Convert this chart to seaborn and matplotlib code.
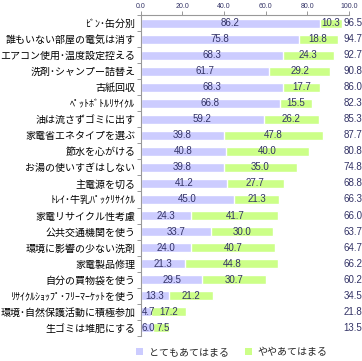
import numpy as np
import pandas as pd
import seaborn as sns
import matplotlib.pyplot as plt
from matplotlib.patches import Patch

labels = [
    "ﾋﾞﾝ･缶分別", "誰もいない部屋の電気は消す", "エアコン使用･温度設定控える",
    "洗剤･シャンプー詰替え", "古紙回収", "ﾍﾟｯﾄﾎﾞﾄﾙﾘｻｲｸﾙ", "油は流さずゴミに出す",
    "家電省エネタイプを選ぶ", "節水を心がける", "お湯の使いすぎはしない", "主電源を切る",
    "ﾄﾚｲ･牛乳ﾊﾟｯｸﾘｻｲｸﾙ", "家電リサイクル性考慮", "公共交通機関を使う",
    "環境に影響の少ない洗剤", "家電製品修理", "自分の買物袋を使う",
    "ﾘｻｲｸﾙｼｮｯﾌﾟ･ﾌﾘｰﾏｰｹｯﾄを使う", "環境･自然保護活動に積極参加", "生ゴミは堆肥にする",
]
very = [86.2, 75.8, 68.3, 61.7, 68.3, 66.8, 59.2, 39.8, 40.8, 39.8, 41.2,
        45.0, 24.3, 33.7, 24.0, 21.3, 29.5, 13.3, 4.7, 6.0]
some = [10.3, 18.8, 24.3, 29.2, 17.7, 15.5, 26.2, 47.8, 40.0, 35.0, 27.7,
        21.3, 41.7, 30.0, 40.7, 44.8, 30.7, 21.2, 17.2, 7.5]
totals = [96.5, 94.7, 92.7, 90.8, 86.0, 82.3, 85.3, 87.7, 80.8, 74.8, 68.8,
          66.3, 66.0, 63.7, 64.7, 66.2, 60.2, 34.5, 21.8, 13.5]
series = ["とてもあてはまる", "ややあてはまる"]

purple = "#CCCCFF"
green = "#CCFF88"
txt = "#333366"

df = pd.DataFrame({"item": labels, "very": very, "some": some})
df["stack"] = df["very"] + df["some"]

sns.set_style("white")
plt.rcParams["font.family"] = ["Noto Sans CJK JP", "DejaVu Sans"]

fig = plt.figure(figsize=(3.62, 3.61), dpi=100)
ax = fig.add_axes([0.389, 0.07, 0.575, 0.888])

sns.barplot(data=df, y="item", x="stack", color=green, saturation=1,
            width=0.58, orient="h", ax=ax)
sns.barplot(data=df, y="item", x="very", color=purple, saturation=1,
            width=0.58, orient="h", ax=ax)


def seg_label(start, width, y):
    # narrow segments get their number pushed to the left edge
    if width < 8:
        ax.text(start + (0.5 if start == 0 else 1.7), y, f"{width:.1f}",
                ha="left", va="center", fontsize=7, color=txt,
                family="Liberation Sans")
    else:
        ax.text(start + width / 2, y, f"{width:.1f}", ha="center", va="center",
                fontsize=7, color=txt, family="Liberation Sans")


for i in range(len(labels)):
    seg_label(0, very[i], i)
    seg_label(very[i], some[i], i)
    ax.text(97.3, i, f"{totals[i]:.1f}", ha="left", va="center",
            fontsize=7, color=txt, family="Liberation Sans", clip_on=False)

ax.set_xlim(0, 100)
ax.set_ylim(len(labels) - 0.5, -0.5)
ax.set_xlabel("")
ax.set_ylabel("")

ax.xaxis.tick_top()
ax.set_xticks([0, 20, 40, 60, 80, 100])
ax.set_xticklabels([f"{v:.1f}" for v in [0, 20, 40, 60, 80, 100]],
                   family="Liberation Sans", fontsize=5, color=txt)
ax.tick_params(axis="x", which="major", length=3, width=0.6, color="#888888",
               pad=1, direction="out", top=True, bottom=False)

ax.set_yticks(range(len(labels)))
ax.set_yticklabels(labels, fontsize=7.2, color="black")
ax.tick_params(axis="y", which="major", length=0, pad=4)
ax.set_yticks(np.arange(len(labels) + 1) - 0.5, minor=True)
ax.tick_params(axis="y", which="minor", length=3, width=0.6, color="#888888",
               left=True, direction="out")

for s in ["right", "bottom"]:
    ax.spines[s].set_visible(False)
for s in ["left", "top"]:
    ax.spines[s].set_color("#999999")
    ax.spines[s].set_linewidth(0.8)

handles = [Patch(facecolor=purple, edgecolor="none"),
           Patch(facecolor=green, edgecolor="none")]
fig.legend(handles, series, loc="center", bbox_to_anchor=(0.64, 0.025), ncol=2,
           frameon=False, fontsize=7.2, handlelength=0.7, handleheight=0.7,
           handletextpad=0.6, columnspacing=1.6)

fig.savefig("out.png", dpi=100)
